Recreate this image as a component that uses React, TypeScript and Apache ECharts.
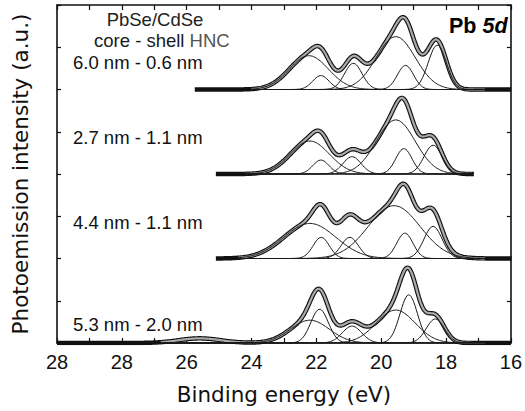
import React, { useEffect, useRef } from "react";
import * as echarts from "echarts";

// ---- axis ticks (the reference prints "28" twice) ----
const xTickValues = [30, 28, 26, 24, 22, 20, 18, 16];
const xTickLabels = ["28", "28", "26", "24", "22", "20", "18", "16"];

// ---- sample annotations ----
const sampleLabels = ["6.0 nm - 0.6 nm", "2.7 nm - 1.1 nm", "4.4 nm - 1.1 nm", "5.3 nm - 2.0 nm"];
const sampleLabelY = [62, 137, 222, 324];

// ---- vertical offsets of each spectrum (a.u.) ----
const baselines = [6, 4, 2, 0];

// energy ranges (eV) of measured data and of the fit, per spectrum
const dataStart = [25.75, 25.1, 25.1, 30];
const dataEnd = [16, 17.15, 16, 16];
const fitStart = [24.0, 24.2, 24.4, 26.8];
const fitEnd = [16.8, 17.15, 16.8, 16.8];

// fitted Gaussian components: centre (eV), height (a.u.), sigma (eV)
// order: broad 5d3/2, broad 5d5/2, B 5d3/2, B 5d5/2, C 5d3/2, C 5d5/2
const spec1Centers = [22.23, 19.55, 21.86, 19.25, 20.86, 18.27];
const spec1Heights = [0.8, 1.25, 0.33, 0.57, 0.62, 1.05];
const spec1Sigmas = [0.6, 0.6, 0.25, 0.25, 0.27, 0.28];

const spec2Centers = [22.2, 19.55, 21.86, 19.3, 20.9, 18.4];
const spec2Heights = [0.78, 1.28, 0.33, 0.6, 0.41, 0.68];
const spec2Sigmas = [0.6, 0.6, 0.25, 0.25, 0.28, 0.28];

const spec3Centers = [22.2, 19.6, 21.85, 19.27, 20.97, 18.4];
const spec3Heights = [0.83, 1.25, 0.5, 0.6, 0.5, 0.76];
const spec3Sigmas = [0.8, 0.8, 0.25, 0.25, 0.27, 0.28];

const spec4Centers = [22.2, 19.55, 21.9, 19.15, 20.9, 18.33];
const spec4Heights = [0.54, 0.78, 0.8, 1.14, 0.4, 0.57];
const spec4Sigmas = [0.6, 0.6, 0.27, 0.27, 0.3, 0.28];

// small broad feature in the bottom spectrum (in data and fit, no drawn component)
const spec4ExtraCenter = [25.6];
const spec4ExtraHeight = [0.11];
const spec4ExtraSigma = [0.65];

const FONT = "'Liberation Sans', Arial, Helvetica, sans-serif";
const TITLE_FONT = "'DejaVu Sans', 'Liberation Sans', Arial, sans-serif";

type Spec = { c: number[]; h: number[]; s: number[]; ec: number[]; eh: number[]; es: number[] };

const specs: Spec[] = [
  { c: spec1Centers, h: spec1Heights, s: spec1Sigmas, ec: [], eh: [], es: [] },
  { c: spec2Centers, h: spec2Heights, s: spec2Sigmas, ec: [], eh: [], es: [] },
  { c: spec3Centers, h: spec3Heights, s: spec3Sigmas, ec: [], eh: [], es: [] },
  { c: spec4Centers, h: spec4Heights, s: spec4Sigmas, ec: spec4ExtraCenter, eh: spec4ExtraHeight, es: spec4ExtraSigma },
];

function gauss(x: number, c: number, h: number, s: number) {
  const d = x - c;
  return h * Math.exp(-(d * d) / (2 * s * s));
}

function grid(a: number, b: number) {
  const out: number[] = [];
  const step = 0.04;
  const n = Math.round((a - b) / step);
  for (let i = 0; i <= n; i++) out.push(+(a - i * step).toFixed(3));
  return out;
}

function envelope(sp: Spec, x: number) {
  let y = 0;
  for (let i = 0; i < sp.c.length; i++) y += gauss(x, sp.c[i], sp.h[i], sp.s[i]);
  for (let i = 0; i < sp.ec.length; i++) y += gauss(x, sp.ec[i], sp.eh[i], sp.es[i]);
  return y;
}

function buildSeries() {
  const series: any[] = [];
  specs.forEach((sp, k) => {
    const base = baselines[k];
    const xd = grid(dataStart[k], dataEnd[k]);
    series.push({
      type: "line",
      name: "data" + k,
      data: xd.map((x) => [x, base + envelope(sp, x)]),
      showSymbol: false,
      symbol: "none",
      lineStyle: { color: "#111", width: 4.5 },
      z: 2,
      silent: true,
    });
    const xf = grid(fitStart[k], fitEnd[k]);
    series.push({
      type: "line",
      name: "fit" + k,
      data: xf.map((x) => [x, base + envelope(sp, x)]),
      showSymbol: false,
      symbol: "none",
      lineStyle: { color: "#ababab", width: 2.2 },
      z: 3,
      silent: true,
    });
    for (let i = 0; i < sp.c.length; i++) {
      series.push({
        type: "line",
        name: "comp" + k + "_" + i,
        data: xf.map((x) => [x, base + gauss(x, sp.c[i], sp.h[i], sp.s[i])]),
        showSymbol: false,
        symbol: "none",
        lineStyle: { color: "#1a1a1a", width: 1 },
        z: 4,
        silent: true,
      });
    }
  });
  return series;
}

export default function App() {
  const ref = useRef<HTMLDivElement>(null);
  useEffect(() => {
    if (!ref.current) return;
    const chart = echarts.init(ref.current, null, { renderer: "svg" });
    const tickFmt = (v: number) => {
      const i = xTickValues.indexOf(v);
      return i >= 0 ? xTickLabels[i] : "";
    };
    const axisCommon = {
      type: "value",
      min: 16,
      max: 30,
      interval: 2,
      inverse: true,
      axisLine: { show: true, onZero: false, lineStyle: { color: "#111", width: 1.6 } },
      axisTick: { show: true, inside: true, length: 5, lineStyle: { color: "#111", width: 1.2 } },
      minorTick: { show: true, splitNumber: 2, length: 5, lineStyle: { color: "#111", width: 1.2 } },
      splitLine: { show: false },
      minorSplitLine: { show: false },
    };
    const yCommon = {
      type: "value",
      min: 0,
      max: 8,
      interval: 1,
      axisLine: { show: true, onZero: false, lineStyle: { color: "#111", width: 1.6 } },
      axisTick: { show: true, inside: true, length: 4, lineStyle: { color: "#111", width: 1.2 } },
      axisLabel: { show: false },
      splitLine: { show: false },
    };
    chart.setOption({
      animation: false,
      backgroundColor: "#ffffff",
      grid: { left: 57, right: 7, top: 5, bottom: 68, containLabel: false },
      xAxis: [
        {
          ...axisCommon,
          position: "bottom",
          axisLabel: { show: true, formatter: tickFmt, fontSize: 20, fontFamily: FONT, color: "#111", margin: 9 },
          name: "Binding energy (eV)",
          nameLocation: "middle",
          nameGap: 40,
          nameTextStyle: { fontSize: 21.5, fontFamily: TITLE_FONT, color: "#111" },
        },
        {
          ...axisCommon,
          position: "top",
          axisLabel: { show: false },
        },
      ],
      yAxis: [
        {
          ...yCommon,
          position: "left",
          name: "Photoemission intensity (a.u.)",
          nameLocation: "middle",
          nameGap: 26,
          nameTextStyle: { fontSize: 21.5, fontFamily: TITLE_FONT, color: "#111" },
        },
        { ...yCommon, position: "right" },
      ],
      series: buildSeries(),
      graphic: [
        {
          type: "text",
          x: 155,
          y: 19,
          style: {
            text: "PbSe/CdSe",
            fontSize: 18.5,
            fontFamily: FONT,
            fill: "#222",
            align: "center",
            verticalAlign: "middle",
            textAlign: "center",
            textVerticalAlign: "middle",
          },
        },
        {
          type: "text",
          x: 94,
          y: 40,
          style: {
            text: "core - shell {g|HNC}",
            fontSize: 18.5,
            fontFamily: FONT,
            fill: "#1a1a1a",
            align: "left",
            verticalAlign: "middle",
            textAlign: "left",
            textVerticalAlign: "middle",
            rich: { g: { fontSize: 18.5, fontFamily: FONT, fill: "#555" } },
          },
        },
        ...sampleLabels.map((t, i) => ({
          type: "text",
          x: 73,
          y: sampleLabelY[i],
          style: {
            text: t,
            fontSize: 18.5,
            fontFamily: FONT,
            fill: "#111",
            align: "left",
            verticalAlign: "middle",
            textAlign: "left",
            textVerticalAlign: "middle",
          },
        })),
        {
          type: "text",
          x: 449,
          y: 26,
          style: {
            text: "Pb {i|5d}",
            fontSize: 21.5,
            fontWeight: "bold",
            fontFamily: FONT,
            fill: "#000",
            align: "left",
            verticalAlign: "middle",
            textAlign: "left",
            textVerticalAlign: "middle",
            rich: { i: { fontSize: 21.5, fontWeight: "bold", fontStyle: "italic", fontFamily: FONT, fill: "#000" } },
          },
        },
      ],
    });
    return () => chart.dispose();
  }, []);
  return <div ref={ref} style={{ width: 525, height: 411, position: "absolute", left: 0, top: 0 }} />;
}
